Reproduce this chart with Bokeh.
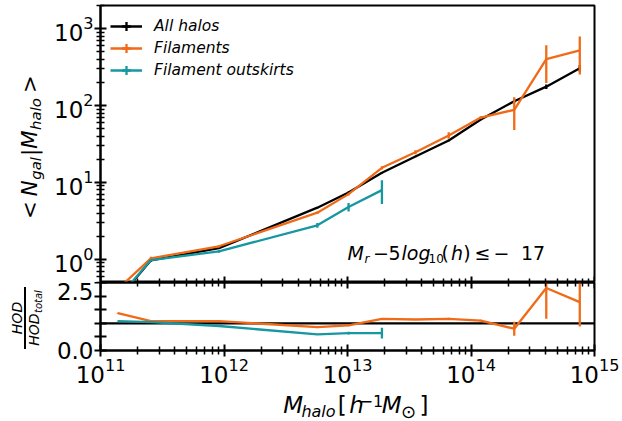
import numpy as np
from bokeh.plotting import figure
from bokeh.layouts import column, row
from bokeh.models import (Label, Legend, LegendItem, LogAxis, FixedTicker, Span,
                          BoxAnnotation, Range1d)
from bokeh.embed import file_html
from bokeh.resources import INLINE

# ---------------- data ----------------
halo_mass = [1.38e11, 2.56e11, 9.1e11, 5.7e12, 1.02e13, 1.9e13,
             3.55e13, 6.6e13, 1.2e14, 2.24e14, 4.07e14, 7.6e14]
n_all = [0.30, 0.97, 1.40, 4.7, 7.4, 13.4, 21.7, 35.2, 65.8, 114, 176, 306]
n_all_err = [0.02, 0.03, 0.03, 0.1, 0.2, 0.3, 0.5, 0.8, 1.5, 5, 12, 30]
n_fil = [0.41, 1.03, 1.48, 4.05, 7.05, 15.5, 24.7, 40.9, 69.8, 88, 402, 521]
n_fil_err = [0.05, 0.05, 0.05, 0.15, 0.3, 0.8, 1.5, 4, 3, 40, 205, 268]
n_out = [0.31, 0.98, 1.27, 2.77, 4.8, 7.95]
n_out_err = [0.03, 0.03, 0.05, 0.2, 0.6, 2.7]

ratio_fil = [1.37, 1.08, 1.08, 0.86, 0.92, 1.16, 1.14, 1.16, 1.10, 0.80, 2.30, 1.78]
ratio_fil_err = [0.02, 0.01, 0.01, 0.02, 0.03, 0.03, 0.02, 0.04, 0.03, 0.26, 1.13, 0.90]
ratio_out = [1.08, 1.04, 0.90, 0.59, 0.64, 0.64]
ratio_out_err = [0.01, 0.01, 0.02, 0.02, 0.05, 0.20]
ratio_ref = 1.0

series_labels = ["All halos", "Filaments", "Filament outskirts"]
annotation_cut = "17"

x_decades = [1e11, 1e12, 1e13, 1e14, 1e15]
y_decades = [1e0, 1e1, 1e2, 1e3]
ratio_ticks = [0.0, 0.5, 1.0, 1.5, 2.0, 2.5]
ratio_tick_labels = ["0.0", "", "", "", "", "2.5"]

# ---------------- style ----------------
FONT = "DejaVu Sans"
C_ALL = "#000000"
C_FIL = "#F06A17"
C_OUT = "#1797A0"
LW = 2.3
TICK_FS = "23px"
STRIP_W = 50
TOTAL_W, TOTAL_H = 622, 421
P1_H, P2_H = 282, 109
XLAB_H = TOTAL_H - P1_H - P2_H
FRAME_LEFT = 99
BASE_FIX = 0.3   # empirical baseline correction, in em

W = {' ': 0.318, '<': 0.838, '>': 0.838, '|': 0.337, 'N': 0.748, 'M': 0.863,
     'H': 0.752, 'O': 0.787, 'D': 0.770, 'g': 0.635, 'a': 0.613, 'l': 0.278,
     'h': 0.634, 'o': 0.612, 't': 0.392, 'r': 0.411, '[': 0.390, ']': 0.390,
     '(': 0.390, ')': 0.390, '\u2212': 0.838, '\u2264': 0.838, '\u2299': 0.838}


def text_width(s, size):
    return sum(W.get(c, 0.636) for c in s) * size


def add_label(fig, x, y, text, size, italic, angle=0.0, units="data"):
    fig.add_layout(Label(x=x, y=y, x_units=units, y_units=units,
                         text=text, angle=angle, text_font=FONT,
                         text_font_size=f"{size}px",
                         text_font_style="italic" if italic else "normal",
                         text_color="black", text_align="left",
                         text_baseline="alphabetic"))


def compose(fig, x, y, pieces, vertical=False, units="data"):
    pos = 0.0
    for text, size, italic, shift, gap in pieces:
        pos += gap
        fix = BASE_FIX * size
        if vertical:
            add_label(fig, x - shift - fix, y + pos, text, size, italic, np.pi / 2, units)
        else:
            add_label(fig, x + pos, y + shift + fix, text, size, italic, 0.0, units)
        pos += text_width(text, size)


def log_minor(decades):
    out = []
    for d in decades:
        out += [k * d / 10 for k in range(2, 10)] + [k * d for k in range(2, 10)]
    return sorted(set(out))


def style_axis(ax, tin=6, tout=6, min_in=4, min_out=4):
    ax.axis_line_width = 2
    ax.axis_line_color = "black"
    ax.major_tick_line_width = 2
    ax.major_tick_line_color = "black"
    ax.minor_tick_line_width = 1.5
    ax.minor_tick_line_color = "black"
    ax.major_tick_in = tin
    ax.major_tick_out = tout
    ax.minor_tick_in = min_in
    ax.minor_tick_out = min_out
    ax.major_label_text_font = FONT
    ax.major_label_text_font_size = TICK_FS
    ax.major_label_text_color = "black"


def err_bounds(v, e):
    v = np.asarray(v, float)
    e = np.asarray(e, float)
    return v - e, v + e


def text_strip(w, h):
    s = figure(width=w, height=h, x_range=Range1d(0, w), y_range=Range1d(0, h),
               output_backend="svg", toolbar_location=None,
               x_axis_location=None, y_axis_location=None,
               min_border_left=0, min_border_right=0, min_border_top=0,
               min_border_bottom=0)
    s.grid.visible = False
    s.outline_line_color = None
    s.background_fill_color = "white"
    s.border_fill_color = "white"
    return s


x_ticker = FixedTicker(ticks=x_decades, minor_ticks=log_minor(x_decades))
blank_x = {t: "" for t in x_decades}
PW = TOTAL_W - STRIP_W
BORDER_L = FRAME_LEFT - STRIP_W

# ---------------- top panel ----------------
p1 = figure(width=PW, height=P1_H, x_axis_type="log", y_axis_type="log",
            x_range=Range1d(1e11, 1e15), y_range=Range1d(0.5, 2000),
            output_backend="svg", toolbar_location=None,
            min_border_left=BORDER_L, min_border_right=28, min_border_top=5,
            min_border_bottom=0)
p1.grid.visible = False
p1.outline_line_color = "black"
p1.outline_line_width = 2
p1.background_fill_color = "white"
p1.border_fill_color = "white"

p1.xaxis.fixed_location = 0.5
style_axis(p1.xaxis[0], tin=6, tout=0, min_in=4, min_out=0)
p1.xaxis.ticker = x_ticker
p1.xaxis.major_label_overrides = blank_x
style_axis(p1.yaxis[0])
p1.yaxis.ticker = FixedTicker(ticks=y_decades, minor_ticks=log_minor(y_decades + [1e4]))
p1.yaxis.major_label_standoff = 1

xs_out = halo_mass[:len(n_out)]
legend_items = []
for xs, ys, es, col, lab in [(halo_mass, n_all, n_all_err, C_ALL, series_labels[0]),
                             (halo_mass, n_fil, n_fil_err, C_FIL, series_labels[1]),
                             (xs_out, n_out, n_out_err, C_OUT, series_labels[2])]:
    r = p1.line(xs, ys, line_color=col, line_width=LW)
    lo, hi = err_bounds(ys, es)
    p1.segment(x0=xs, y0=lo, x1=xs, y1=hi, line_color=col, line_width=LW)
    m = p1.scatter(x=[np.nan], y=[np.nan], marker="cross", size=12, line_color=col,
                   line_width=LW)
    legend_items.append(LegendItem(label=lab, renderers=[r, m]))

legend = Legend(items=legend_items, location="top_left",
                border_line_alpha=0, background_fill_alpha=0,
                label_text_font=FONT, label_text_font_style="italic",
                label_text_font_size="15.5px", label_text_color="black",
                glyph_width=32, glyph_height=22, spacing=0, padding=10,
                margin=0, label_standoff=12, label_height=20)
p1.add_layout(legend)

# annotation  M_r - 5 log10(h) <= -17 : pieces placed at the reference positions
ann_y = 282 - 257.7
ann = [("M", 19, True, 0, 346.0), ("r", 12, True, -4, 363.0),
       ("\u2212", 19, False, 0, 371.5), ("5", 19, False, 0, 387.0),
       ("log", 19, True, 0, 400.0), ("10", 12, False, -4, 427.0),
       ("(", 19, False, 0, 440.0), ("h", 19, True, 0, 449.5),
       (")", 19, False, 0, 461.8), ("\u2264", 19, False, 0, 473.0),
       ("\u2212", 19, False, 0, 492.0), (annotation_cut, 19, False, 0, 519.5)]
for text, size, italic, shift, cx in ann:
    add_label(p1, cx - FRAME_LEFT, ann_y + shift + BASE_FIX * size, text, size, italic,
              0.0, "screen")

# ---------------- ratio panel ----------------
p2 = figure(width=PW, height=P2_H, x_axis_type="log",
            x_range=p1.x_range, y_range=Range1d(0, 2.5),
            output_backend="svg", toolbar_location=None,
            min_border_left=BORDER_L, min_border_right=28, min_border_top=0,
            min_border_bottom=P2_H - 68)
p2.grid.visible = False
p2.outline_line_color = "black"
p2.outline_line_width = 2
p2.background_fill_color = "white"
p2.border_fill_color = "white"

style_axis(p2.xaxis[0])
p2.xaxis.ticker = x_ticker
p2.xaxis.major_label_standoff = 1
style_axis(p2.yaxis[0])
p2.yaxis.ticker = FixedTicker(ticks=ratio_ticks)
p2.yaxis.major_label_overrides = dict(zip(ratio_ticks, ratio_tick_labels))
p2.yaxis.major_label_standoff = 1

top_ax = LogAxis(fixed_location=2.5, ticker=x_ticker, major_label_overrides=blank_x)
style_axis(top_ax, tin=6, tout=0, min_in=4, min_out=0)
p2.add_layout(top_ax, "above")

p2.add_layout(Span(location=ratio_ref, dimension="width", line_color="black",
                   line_width=LW, level="underlay"))
for xs, ys, es, col in [(halo_mass, ratio_fil, ratio_fil_err, C_FIL),
                        (xs_out, ratio_out, ratio_out_err, C_OUT)]:
    p2.line(xs, ys, line_color=col, line_width=LW)
    lo, hi = err_bounds(ys, es)
    p2.segment(x0=xs, y0=lo, x1=xs, y1=hi, line_color=col, line_width=LW)

# ---------------- text strips (axis titles) ----------------
left = text_strip(STRIP_W, TOTAL_H)
# < N_gal | M_halo >   (pixel coordinates, y measured up from the bottom)
compose(left, 35, TOTAL_H - 218.5, [
    ("<", 21.3, False, 0, 0), ("N", 21.3, True, 0, 5),
    ("gal", 14.9, True, -4.5, 0.5), ("|", 21.3, False, 0, 1),
    ("M", 21.3, True, 0, 0), ("halo", 14.9, True, -4.5, 0.5),
    (">", 21.3, False, 0, 5)], vertical=True)

# HOD / HOD_total
mid = TOTAL_H - 317.5
num_w = text_width("HOD", 14)
den_w = text_width("HOD", 14) + 0.5 + text_width("total", 10)
compose(left, 21, mid - num_w / 2, [("HOD", 14, True, 0, 0)], vertical=True)
compose(left, 37.5, mid - den_w / 2, [("HOD", 14, True, 0, 0),
                                       ("total", 10, True, -3, 0.5)], vertical=True)
left.add_layout(BoxAnnotation(left=23.5, right=25.5, bottom=mid - 31, top=mid + 31,
                              fill_color="black", fill_alpha=1.0, line_alpha=0))

bottom = text_strip(PW, XLAB_H)
# M_halo [h^-1 M_sun]
compose(bottom, 261.7 - STRIP_W, TOTAL_H - 411, [
    ("M", 23, True, 0, 0), ("halo", 16, True, -5, 1.1),
    ("[", 23, False, 0, 7.8), ("h", 23, True, 0, 4.3),
    ("\u22121", 16, False, 6, -2.6), ("M", 23, True, 0, 2.1),
    ("\u2299", 18, False, -5, 2.5), ("]", 23, False, 0, 6.5)])

layout = row(left, column(p1, p2, bottom, spacing=0), spacing=0)
open("out.html", "w").write(file_html(layout, INLINE))
